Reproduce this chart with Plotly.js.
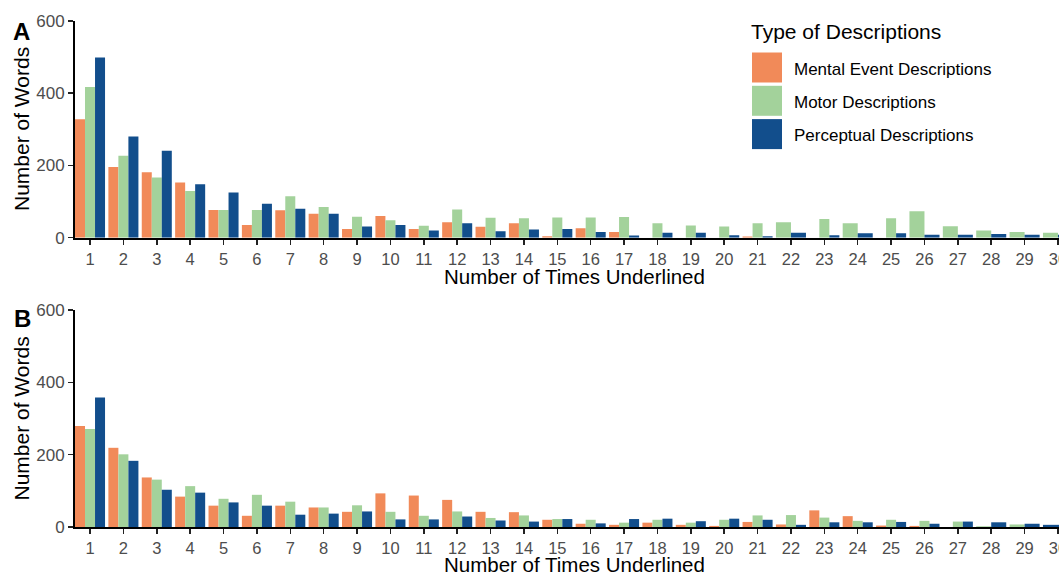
<!DOCTYPE html>
<html><head><meta charset="utf-8">
<script src="https://cdn.plot.ly/plotly-3.0.1.min.js"></script>
<style>html,body{margin:0;padding:0;overflow:hidden;background:#fff}</style>
</head><body><div id="chart" style="width:1075px;height:575px"></div>
<script>
// ---------- data ----------
const categories = [1,2,3,4,5,6,7,8,9,10,11,12,13,14,15,16,17,18,19,20,21,22,23,24,25,26,27,28,29,30];
const tickLabels = ["1","2","3","4","5","6","7","8","9","10","11","12","13","14","15","16","17","18","19","20","21","22","23","24","25","26","27","28","29","30"];
const yTicks = [0,200,400,600];
const seriesNames = ["Mental Event Descriptions","Motor Descriptions","Perceptual Descriptions"];
const seriesColors = ["#F18A59","#A3D29B","#124E8C"];
const panelLabels = ["A","B"];
const xTitle = "Number of Times Underlined";
const yTitle = "Number of Words";
const legendTitle = "Type of Descriptions";

// Panel A (null = group absent for that count)
const mentalA  = [328,196,181,153,77,35,76,66,24,60,24,43,30,40,4,26,16,0,0,0,3,null,0,null,0,null,null,null,null,null];
const motorA   = [417,227,167,129,77,77,115,85,58,48,33,78,55,54,56,56,57,40,34,31,40,43,52,40,54,73,32,20,16,14];
const perceptA = [499,280,241,148,125,94,80,66,31,35,20,40,18,23,24,16,6,14,14,7,4,14,7,12,12,8,8,10,8,8];
// Panel B
const mentalB  = [279,219,137,84,59,31,59,54,42,93,87,75,42,41,20,9,6,12,6,3,14,7,46,30,4,3,0,null,null,null];
const motorB   = [271,201,131,113,78,89,70,54,60,42,31,43,25,32,22,20,12,20,12,20,32,33,26,17,20,17,15,2,7,null];
const perceptB = [358,183,103,95,68,59,34,37,43,21,21,29,18,15,22,10,22,23,16,23,20,6,13,13,14,9,15,13,9,6];

// ---------- geometry ----------
const W = 1075, H = 575, ML = 75, MR = 2, MT = 21, MB = 48;
const px2x = p => (p - ML) / (W - ML - MR);
const py2y = p => (H - MB - p) / (H - MT - MB);
const FONT = "Liberation Sans, Arial, sans-serif";

function buildTraces(seriesList, xa, ya) {
  const traces = [];
  seriesList.forEach((vals, k) => {
    const x = [], y = [], w = [], off = [];
    categories.forEach((c, i) => {
      if (vals[i] === null) return;
      const present = seriesList.map(s => s[i] !== null);
      const n = present.filter(Boolean).length;
      const idx = present.slice(0, k).filter(Boolean).length;
      const bw = 0.9 / n;
      x.push(c); y.push(vals[i]); w.push(bw); off.push(-0.45 + idx * bw);
    });
    traces.push({
      type: "bar", x: x, y: y, width: w, offset: off,
      xaxis: xa, yaxis: ya, name: seriesNames[k], showlegend: false,
      marker: { color: seriesColors[k], line: { width: 0 } },
      hoverinfo: "x+y+name"
    });
  });
  return traces;
}

const data = [].concat(
  buildTraces([mentalA, motorA, perceptA], "x", "y"),
  buildTraces([mentalB, motorB, perceptB], "x2", "y2")
);

const domA = [py2y(237.7), 1];
const domB = [0, py2y(310)];

function xAxis(anchor) {
  return {
    anchor: anchor, domain: [0, 1], range: [0.55, 30.45],
    tickmode: "array", tickvals: categories, ticktext: tickLabels,
    showline: true, linecolor: "#000", linewidth: 2,
    ticks: "outside", ticklen: 5, tickwidth: 1.5, tickcolor: "#222",
    tickfont: { family: FONT, size: 16.5, color: "#4D4D4D" },
    showgrid: false, zeroline: false, fixedrange: true
  };
}
function yAxis(anchor, dom) {
  return {
    anchor: anchor, domain: dom, range: [0, 600],
    tickmode: "array", tickvals: yTicks, ticktext: yTicks.map(String),
    showline: true, linecolor: "#000", linewidth: 2,
    ticks: "outside", ticklen: 5, tickwidth: 1.5, tickcolor: "#222",
    tickfont: { family: FONT, size: 17, color: "#4D4D4D" },
    showgrid: false, zeroline: false, fixedrange: true
  };
}

const annotations = [];
const shapes = [];
function txt(text, xpx, ypx, size, opts) {
  annotations.push(Object.assign({
    text: text, xref: "paper", yref: "paper", x: px2x(xpx), y: py2y(ypx),
    xanchor: "center", yanchor: "middle", showarrow: false,
    font: { family: FONT, size: size, color: "#000" }
  }, opts || {}));
}
// axis titles
txt(xTitle, 574, 276, 20.5);
txt(xTitle, 574, 564.5, 20.5);
txt(yTitle, 21, 129, 21, { textangle: -90 });
txt(yTitle, 21, 418.5, 21, { textangle: -90 });
// panel labels
txt("<b>" + panelLabels[0] + "</b>", 21.5, 31, 24);
txt("<b>" + panelLabels[1] + "</b>", 22.5, 319, 24);
// legend
txt(legendTitle, 749, 31.5, 21, { xanchor: "left" });
const legY = [67.5, 100.8, 134.1];
seriesNames.forEach((nm, k) => {
  shapes.push({
    type: "rect", xref: "paper", yref: "paper",
    x0: px2x(752), x1: px2x(782), y0: py2y(legY[k] + 15), y1: py2y(legY[k] - 15),
    fillcolor: seriesColors[k], line: { width: 0 }
  });
  txt(nm, 791.5, legY[k] + 1.5, 17, { xanchor: "left" });
});

const layout = {
  width: W, height: H,
  margin: { l: ML, r: MR, t: MT, b: MB, pad: 0 },
  paper_bgcolor: "#fff", plot_bgcolor: "#fff",
  barmode: "overlay", showlegend: false,
  font: { family: FONT },
  xaxis: xAxis("y"), yaxis: yAxis("x", domA),
  xaxis2: xAxis("y2"), yaxis2: yAxis("x2", domB),
  annotations: annotations, shapes: shapes
};

Plotly.newPlot("chart", data, layout, { displayModeBar: false, staticPlot: true });
</script>
</body></html>
